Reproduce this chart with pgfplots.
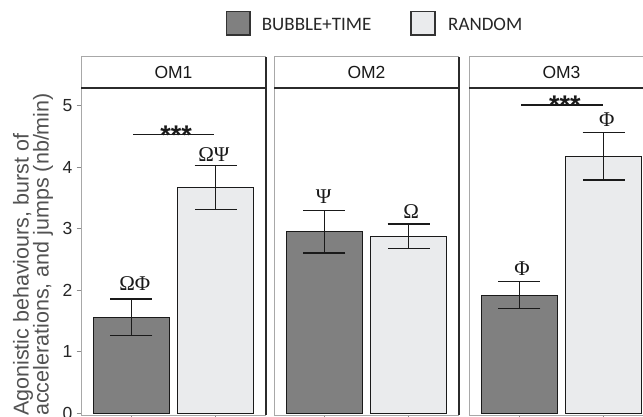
\documentclass[border=0pt]{standalone}
\usepackage{fontspec}
\setmainfont{Liberation Sans}
\newfontfamily\grk{Liberation Serif}
\newfontfamily\leg{Carlito}
\usepackage{pgfplots}
\pgfplotsset{compat=1.18}
\definecolor{darkbar}{HTML}{808080}
\definecolor{lightbar}{HTML}{EAEBED}
\definecolor{edge}{HTML}{1A1A1A}
\definecolor{lightedge}{HTML}{A8A8A8}
\definecolor{darkedge}{HTML}{2B2B2B}
\definecolor{tickgray}{HTML}{8C8C8C}

\pgfplotsset{
  panel/.style={
    scale only axis, width=185bp, height=327bp, anchor=south west,
    xmin=0.4, xmax=2.6, ymin=-0.03, ymax=5.29,
    axis line style={draw=none},
    xtick={1,2}, xticklabels={},
    ytick={0,1,2,3,4,5},
    tick align=outside, major tick length=4.5bp,
    tick style={color=tickgray, line width=0.8bp},
    xtick pos=bottom, ytick pos=left,
    ybar, bar width=0.9, bar shift=0pt,
    clip=false,
    error bars/y dir=both, error bars/y explicit,
    error bars/error mark=|,
    error bars/error bar style={line width=1.4bp, color=edge},
    error bars/error mark options={line width=1.4bp, color=edge, mark size=21bp},
    /pgf/number format/assume math mode=true,
    yticklabel style={font=\fontsize{17.5bp}{20bp}\selectfont, text=black!85, inner sep=0pt, xshift=-4bp},
  },
  sig/.style={draw=edge, line width=1.5bp, forget plot, sharp plot, mark=none, error bars/y dir=none},
}
\newcommand{\panelborders}{%
  \draw[lightedge, line width=1bp] (rel axis cs:0,0) -- (rel axis cs:0,1);
  \draw[darkedge, line width=1.5bp] (rel axis cs:1,0) -- (rel axis cs:1,1);
  \draw[lightedge, line width=1bp] (rel axis cs:0,0) -- (rel axis cs:1,0);
}
\newcommand{\facetstrip}[2]{%
  \fill[white] (#1bp,329bp) rectangle ++(185bp,31bp);
  \draw[lightedge, line width=1bp] (#1bp,329bp) -- ++(0,31bp) -- ++(185bp,0);
  \draw[darkedge, line width=1.5bp] (#1bp,329bp) -- ++(185bp,0) -- ++(0,31bp);
  \node[font=\fontsize{17.5bp}{20bp}\selectfont, text=black!90, inner sep=0pt] at ([xshift=92.5bp]#1bp,344.5bp) {#2};
}
\tikzset{
  grklab/.style={anchor=base, inner sep=0pt, font=\grk\fontsize{21bp}{23bp}\selectfont, text=edge},
  stars/.style={anchor=base, inner sep=0pt, font=\bfseries\fontsize{27bp}{30bp}\selectfont, text=edge, yshift=-9.5bp},
}

\begin{document}
\begin{tikzpicture}
\useasboundingbox (0,0) rectangle (643bp,417bp);

% ---------- OM1 ----------
\begin{axis}[panel, at={(81bp,2bp)}]
\addplot[fill=darkbar, draw=edge, line width=1.2bp] coordinates {(1,1.56) +- (0,0.30)};
\addplot[fill=lightbar, draw=edge, line width=1.2bp] coordinates {(2,3.67) +- (0,0.36)};
\addplot[sig] coordinates {(1.02,4.53) (1.98,4.53)};
\node[grklab] at (axis cs:1.04,2.00) {ΩΦ};
\node[grklab] at (axis cs:1.98,4.09) {ΩΨ};
\node[stars] at (axis cs:1.53,4.53) {***};
\panelborders
\end{axis}

% ---------- OM2 ----------
\begin{axis}[panel, at={(274bp,2bp)}, yticklabels={}, ytick style={draw=none}]
\addplot[fill=darkbar, draw=edge, line width=1.2bp] coordinates {(1,2.95) +- (0,0.345)};
\addplot[fill=lightbar, draw=edge, line width=1.2bp] coordinates {(2,2.88) +- (0,0.20)};
\node[grklab] at (axis cs:0.99,3.41) {Ψ};
\node[grklab] at (axis cs:2.03,3.17) {Ω};
\panelborders
\end{axis}

% ---------- OM3 ----------
\begin{axis}[panel, at={(469bp,2bp)}, yticklabels={}, ytick style={draw=none}]
\addplot[fill=darkbar, draw=edge, line width=1.2bp] coordinates {(1,1.92) +- (0,0.22)};
\addplot[fill=lightbar, draw=edge, line width=1.2bp] coordinates {(2,4.18) +- (0,0.39)};
\addplot[sig] coordinates {(1.02,5.01) (1.99,5.01)};
\node[grklab] at (axis cs:1.03,2.24) {Φ};
\node[grklab] at (axis cs:2.04,4.67) {Φ};
\node[stars] at (axis cs:1.54,5.01) {***};
\panelborders
\end{axis}

% strips
\facetstrip{81}{OM1}
\facetstrip{274}{OM2}
\facetstrip{469}{OM3}

% y label
\node[rotate=90, anchor=base west, inner sep=0pt, font=\fontsize{21.5bp}{23bp}\selectfont, text=black!68] at (28.5bp,1bp) {Agonistic behaviours, burst of};
\node[rotate=90, anchor=base west, inner sep=0pt, font=\fontsize{21.5bp}{23bp}\selectfont, text=black!68] at (48.5bp,1bp) {accelerations, and jumps (nb/min)};

% legend
\filldraw[fill=darkbar, draw=black!80, line width=1.2bp] (226.7bp,382bp) rectangle (250bp,405.3bp);
\node[anchor=base west, inner sep=0pt, font=\leg\fontsize{19bp}{21bp}\selectfont, text=black!85] at (261.7bp,386.3bp) {BUBBLE+TIME};
\filldraw[fill=lightbar, draw=black!80, line width=1.2bp] (411bp,382bp) rectangle (435bp,405.3bp);
\node[anchor=base west, inner sep=0pt, font=\leg\fontsize{19bp}{21bp}\selectfont, text=black!85] at (448bp,386.3bp) {RANDOM};
\end{tikzpicture}
\end{document}
